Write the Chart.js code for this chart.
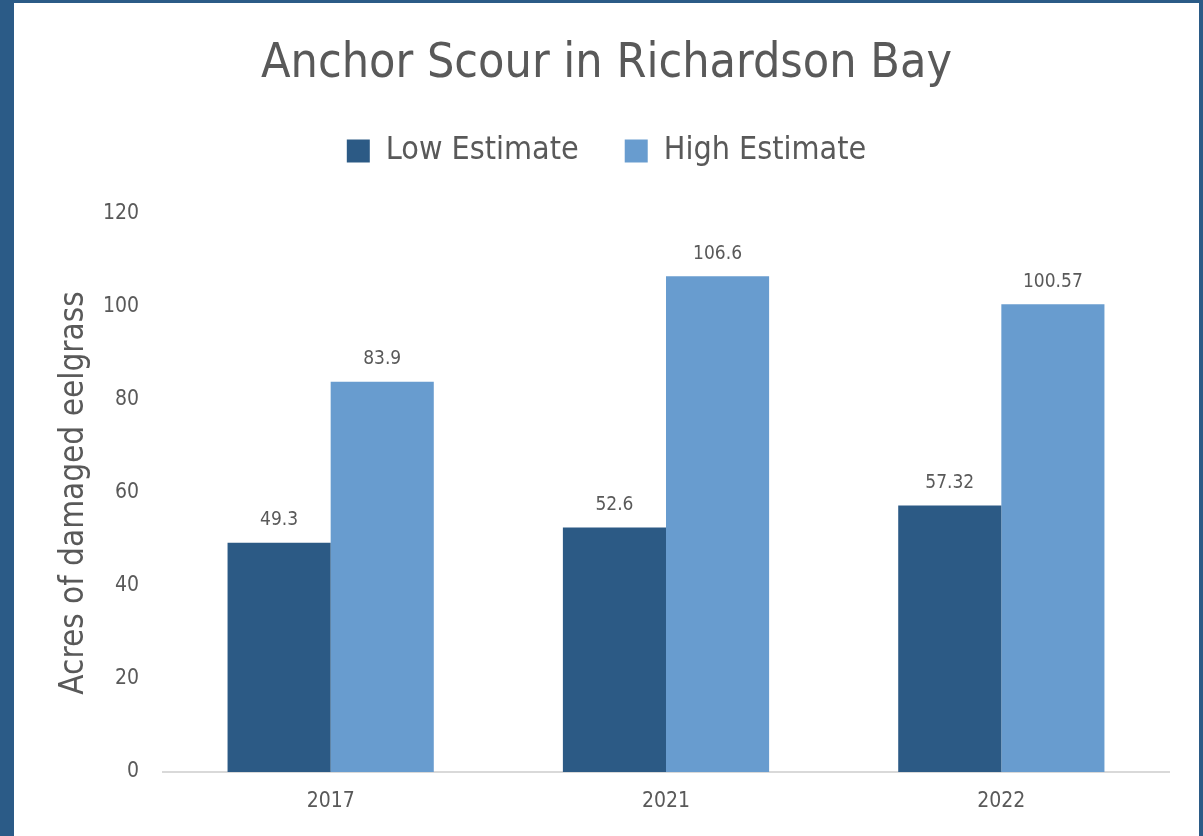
<!DOCTYPE html>
<html>
<head>
<meta charset="utf-8">
<script src="https://cdn.jsdelivr.net/npm/chart.js@4"></script>
<style>
  html, body { margin: 0; padding: 0; background: #2B5B87; width: 1203px; height: 836px; overflow: hidden; }
  #wrap { position: absolute; left: 14px; top: 3px; width: 1185px; height: 833px; background: #ffffff; }
  canvas { display: block; }
</style>
</head>
<body>
<div id="wrap"><canvas id="c" width="1185" height="833"></canvas></div>
<script>
const categories = ['2017', '2021', '2022'];
const lowEstimate = [49.3, 52.6, 57.32];
const highEstimate = [83.9, 106.6, 100.57];
const seriesNames = ['Low Estimate', 'High Estimate'];
const FONT = "'DejaVu Sans Condensed', 'Liberation Sans Narrow', 'Roboto', sans-serif";
const TEXT = '#595959';

const dataLabels = {
  id: 'dataLabels',
  afterDatasetsDraw(chart) {
    const ctx = chart.ctx;
    ctx.save();
    ctx.font = '19px ' + FONT;
    ctx.fillStyle = TEXT;
    ctx.textAlign = 'center';
    ctx.textBaseline = 'bottom';
    chart.data.datasets.forEach((ds, i) => {
      const meta = chart.getDatasetMeta(i);
      meta.data.forEach((bar, j) => {
        ctx.fillText(String(ds.data[j]), bar.x, bar.y - 13);
      });
    });
    ctx.restore();
  }
};

const legendSpace = {
  id: 'legendSpace',
  beforeInit(chart) {
    const lg = chart.legend;
    if (!lg) return;
    const orig = lg.fit;
    lg.fit = function () { orig.call(this); this.height += 37; };
  }
};

new Chart(document.getElementById('c'), {
  type: 'bar',
  data: {
    labels: categories,
    datasets: [
      { label: seriesNames[0], data: lowEstimate, backgroundColor: '#2C5A85' },
      { label: seriesNames[1], data: highEstimate, backgroundColor: '#689CCF' }
    ]
  },
  options: {
    responsive: false,
    animation: false,
    devicePixelRatio: 1,
    layout: { padding: { left: 0, right: 0, top: 0, bottom: 0 } },
    datasets: { bar: { categoryPercentage: 0.615, barPercentage: 1.0, borderWidth: 0 } },
    plugins: {
      title: {
        display: true,
        text: 'Anchor Scour in Richardson Bay',
        color: TEXT,
        font: { family: FONT, size: 48, weight: 'normal', lineHeight: 1.0 },
        padding: { top: 38, bottom: 0 }
      },
      legend: {
        display: true,
        position: 'top',
        labels: {
          color: TEXT,
          font: { family: FONT, size: 32 },
          boxWidth: 23,
          boxHeight: 23,
          padding: 46
        }
      },
      tooltip: { enabled: false }
    },
    scales: {
      x: {
        grid: { display: false, drawTicks: false },
        border: { display: true, color: '#D9D9D9', width: 2 },
        ticks: { color: TEXT, font: { family: FONT, size: 21 }, padding: 17 },
        afterFit(s) { s.height = 64; }
      },
      y: {
        min: 0, max: 120,
        grid: { display: false, drawTicks: false },
        border: { display: false },
        ticks: { stepSize: 20, color: TEXT, font: { family: FONT, size: 21 }, padding: 24 },
        title: {
          display: true,
          text: 'Acres of damaged eelgrass',
          color: TEXT,
          font: { family: FONT, size: 33 },
          padding: { top: 41, bottom: 0 }
        },
        afterFit(s) { s.width = 149; }
      },
      ySpacer: {
        position: 'right',
        grid: { display: false, drawTicks: false },
        border: { display: false },
        ticks: { display: false },
        afterFit(s) { s.width = 30; }
      }
    }
  },
  plugins: [dataLabels, legendSpace]
});
</script>
</body>
</html>
